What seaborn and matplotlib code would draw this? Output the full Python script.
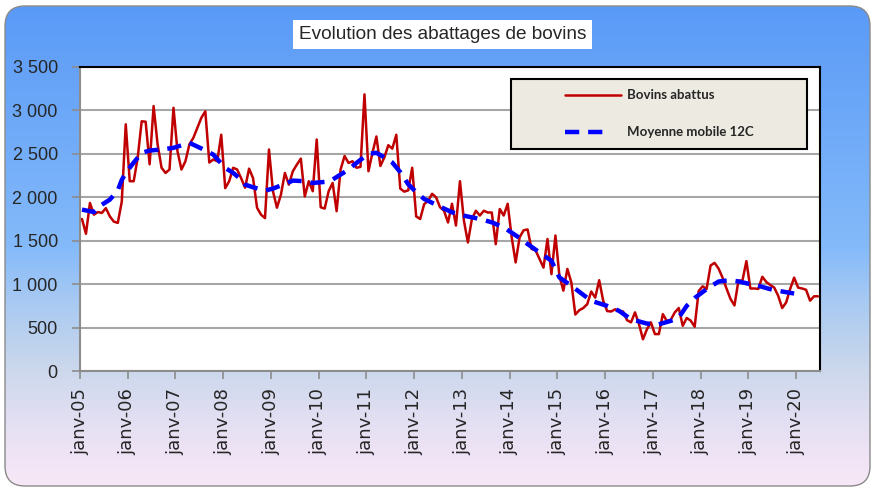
import numpy as np
import pandas as pd
import seaborn as sns
import matplotlib.pyplot as plt
from matplotlib.patches import FancyBboxPatch, Rectangle
from matplotlib.colors import LinearSegmentedColormap
from matplotlib.ticker import FuncFormatter

# tick labels, one per January
annees = ["janv-05", "janv-06", "janv-07", "janv-08", "janv-09", "janv-10", "janv-11", "janv-12",
          "janv-13", "janv-14", "janv-15", "janv-16", "janv-17", "janv-18", "janv-19", "janv-20"]

# monthly values, janv-05 .. juin-20
bovins_abattus = [
    1750, 1580, 1935, 1800, 1830, 1820, 1875, 1780, 1720, 1705, 1950, 2840,
    2185, 2185, 2455, 2875, 2870, 2380, 3050, 2610, 2340, 2280, 2320, 3030,
    2530, 2320, 2415, 2610, 2685, 2800, 2915, 2990, 2400, 2435, 2415, 2720,
    2105, 2185, 2340, 2320, 2220, 2110, 2330, 2220, 1880, 1800, 1760, 2550,
    2070, 1880, 2030, 2280, 2145, 2300, 2375, 2445, 2010, 2185, 2070, 2665,
    1885, 1870, 2070, 2165, 1840, 2320, 2475, 2395, 2415, 2340, 2350, 3185,
    2300, 2510, 2700, 2360, 2460, 2600, 2560, 2720, 2100, 2065, 2080, 2340,
    1780, 1750, 1920, 1960, 2040, 2000, 1885, 1845, 1710, 1925, 1675, 2185,
    1730, 1480, 1750, 1845, 1790, 1845, 1825, 1825, 1460, 1865, 1790, 1925,
    1540, 1250, 1540, 1620, 1630, 1405, 1390, 1290, 1190, 1520, 1115, 1560,
    1095, 925, 1175, 1020, 650, 700, 725, 770, 915, 845, 1045, 810,
    690, 685, 710, 690, 685, 585, 560, 675, 540, 365, 480, 560,
    425, 425, 655, 575, 590, 675, 725, 520, 610, 580, 510, 920,
    975, 945, 1215, 1245, 1180, 1075, 950, 830, 755, 1040, 1040, 1265,
    950, 950, 945, 1085, 1025, 990, 960, 865, 725, 790, 945, 1075,
    960, 950, 935, 810, 860, 860,
]

# moyenne mobile 12C, read at a few months
mm_mois = [0, 3, 5, 7, 9, 10, 11, 13, 15, 17, 20, 23, 27, 30, 33, 36, 38, 40, 41, 43,
           46, 48, 51, 53, 56, 58, 61, 63, 67, 69, 72, 74, 76, 78, 80, 82, 84, 86, 90, 93,
           96, 100, 103, 106, 110, 112, 115, 118, 120, 123, 126, 128, 132, 135, 138, 142,
           145, 148, 150, 152, 154, 157, 160, 163, 165, 168, 170, 173, 175, 178, 179]
mm_valeurs = [1858, 1830, 1915, 1973, 2080, 2200, 2280, 2400, 2512, 2538, 2550, 2569, 2627,
              2562, 2492, 2338, 2281, 2204, 2146, 2115, 2077, 2100, 2154, 2192, 2185, 2165,
              2177, 2204, 2319, 2396, 2500, 2512, 2460, 2400, 2290, 2150, 2060, 1981, 1892,
              1827, 1788, 1750, 1712, 1654, 1531, 1462, 1365, 1269, 1077, 981, 877, 808, 750,
              692, 596, 546, 538, 577, 615, 750, 840, 943, 1030, 1046, 1031, 1000, 981, 942,
              923, 900, 892]

sns.set_style("white")
plt.rcParams["font.family"] = ["Liberation Sans", "DejaVu Sans"]

fig = plt.figure(figsize=(8.72, 4.88), dpi=100)

# rounded gradient background
bg = fig.add_axes([0, 0, 1, 1], zorder=-10)
fond = LinearSegmentedColormap.from_list(
    "fond", [(0, "#5a9af7"), (0.5, "#84bafa"), (0.62, "#a9caf2"), (0.75, "#cad7ec"),
             (0.88, "#e6e0f3"), (1, "#f8e8f7")])
im = bg.imshow(np.linspace(0, 1, 256).reshape(-1, 1), cmap=fond,
               extent=(5, 870, 486, 6), aspect="auto")
cadre = FancyBboxPatch((5, 6), 865, 480, boxstyle="round,pad=0,rounding_size=20",
                       facecolor="none", edgecolor="#8a8a8a", lw=1)
bg.add_patch(cadre)
im.set_clip_path(cadre)
bg.set_xlim(0, 872)
bg.set_ylim(488, 0)
bg.axis("off")

ax = fig.add_axes([80 / 872, 1 - 371 / 488, 740 / 872, 304 / 488])
ax.set_facecolor("white")

df = pd.DataFrame({"mois": np.arange(len(bovins_abattus)) + 0.5, "bovins": bovins_abattus})
sns.lineplot(data=df, x="mois", y="bovins", ax=ax, color="#c00000", lw=1.8, zorder=3)

mm = pd.DataFrame({"mois": np.array(mm_mois) + 0.5, "moyenne": mm_valeurs})
sns.lineplot(data=mm, x="mois", y="moyenne", ax=ax, color="#0000ff", lw=3.2, zorder=4)
ax.lines[-1].set_dashes((3.2, 2.0))

ax.set_xlim(0, 186)
ax.set_ylim(0, 3500)
ax.set_xticks(np.arange(0, 181, 12))
ax.set_xticklabels(annees, rotation=90, family=["DejaVu Sans"])
ax.set_yticks(np.arange(0, 3501, 500))
ax.yaxis.set_major_formatter(FuncFormatter(lambda v, p: f"{int(v):,}".replace(",", " ")))
ax.set_xlabel("")
ax.set_ylabel("")
ax.grid(axis="y", color="#a6a6a6", lw=1.5)
ax.set_axisbelow(True)

ax.tick_params(axis="x", bottom=True, direction="out", length=6, width=1.2,
               color="#8c8c8c", labelsize=13, pad=6)
ax.tick_params(axis="y", left=True, direction="out", length=6, width=1.2,
               color="#8c8c8c", labelsize=13, pad=10)
for s in ["left", "bottom"]:
    ax.spines[s].set_color("#8c8c8c")
    ax.spines[s].set_linewidth(1.5)
for s in ["top", "right"]:
    ax.spines[s].set_color("black")
    ax.spines[s].set_linewidth(1.5)

# legend box
ax.add_patch(Rectangle((0.5824, 0.7293), 0.40, 0.2302, transform=ax.transAxes,
                       facecolor="#edeae1", edgecolor="black", lw=1.5, zorder=5))
ax.plot([0.6554, 0.7311], [0.9079, 0.9079], transform=ax.transAxes,
        color="#c00000", lw=1.8, zorder=6)
blue_leg, = ax.plot([0.6554, 0.7135], [0.7872, 0.7872], transform=ax.transAxes,
                    color="#0000ff", lw=3.2, zorder=6)
blue_leg.set_dashes((3.2, 2.0))
ax.text(0.7392, 0.9079, "Bovins abattus", transform=ax.transAxes, va="center",
        fontsize=9.5, fontweight="bold", family=["Lato", "DejaVu Sans"], zorder=7)
ax.text(0.7392, 0.7872, "Moyenne mobile 12C", transform=ax.transAxes, va="center",
        fontsize=9.5, fontweight="bold", family=["Lato", "DejaVu Sans"], zorder=7)

fig.text(0.5075, 0.929, "Evolution des abattages de bovins", ha="center", va="center",
         fontsize=13.7, bbox=dict(boxstyle="square,pad=0.3", facecolor="white", edgecolor="none"))

fig.savefig("out.png", dpi=100)
